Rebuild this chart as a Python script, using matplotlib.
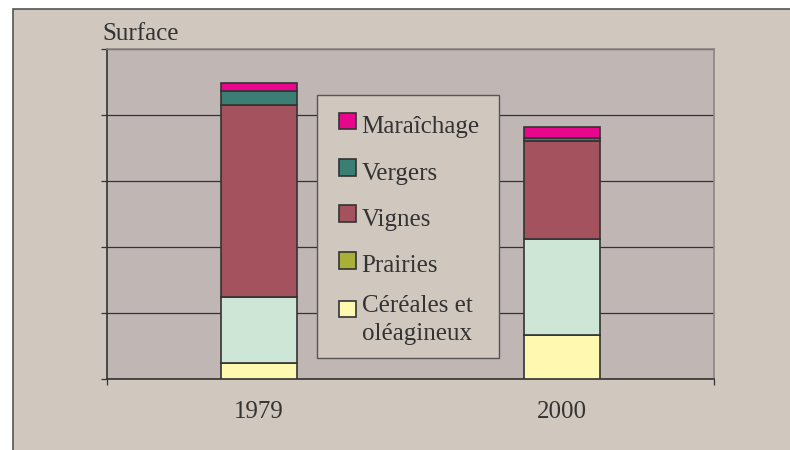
import numpy as np
import matplotlib
matplotlib.use('Agg')
import matplotlib.pyplot as plt
from matplotlib.patches import Rectangle

# Données (surface, unités arbitraires : une ligne de grille = 1000)
annees = ['1979', '2000']
cereales = [250, 670]
prairies = [1000, 1450]
vignes = [2900, 1480]
vergers = [210, 50]
maraichage = [130, 170]

# nom, valeurs, couleur des barres, couleur dans la légende
series = [
    ('Céréales et\noléagineux', cereales, '#FFF8B0', '#FFF8B0'),
    ('Prairies', prairies, '#CDE6D5', '#A8B038'),
    ('Vignes', vignes, '#A5525F', '#A5525F'),
    ('Vergers', vergers, '#3A7E74', '#3A7E74'),
    ('Maraîchage', maraichage, '#E8068C', '#E8068C'),
]

fond = '#D0C7BF'
fond_graph = '#C0B7B5'
texte = '#333333'
taille = 18
W, H = 790, 450

plt.rcParams['font.family'] = ['Liberation Serif', 'DejaVu Serif']

fig = plt.figure(figsize=(7.9, 4.5), dpi=100, facecolor='white')

def px(x, y):
    # pixels (origine en haut à gauche) -> coordonnées figure
    return x / W, 1 - y / H

# cadre extérieur
fig.patches.append(Rectangle((12.5 / W, -0.05), 1.1, 1 - 9.5 / H + 0.05,
                             transform=fig.transFigure, facecolor=fond,
                             edgecolor='#555555', linewidth=1.2, zorder=-5))

ax = fig.add_axes([107 / W, 1 - 379 / H, 607 / W, 330 / H])
ax.set_facecolor(fond_graph)

x = np.arange(len(annees))
bas = np.zeros(len(annees))
for nom, vals, couleur, _ in series:
    ax.bar(x, vals, width=0.25, bottom=bas, color=couleur,
           edgecolor='#333333', linewidth=1.2, zorder=3)
    bas += np.array(vals)

ax.set_xlim(-0.5, 1.5)
ax.set_ylim(0, 5000)
ax.set_yticks(np.arange(0, 5001, 1000))
ax.set_yticklabels([])
ax.yaxis.grid(True, color='#333333', linewidth=0.9)
ax.set_axisbelow(True)
ax.tick_params(axis='y', length=4, width=0.9, color='#333333', direction='out')

ax.set_xticks(x)
ax.set_xticklabels(annees, fontsize=taille, color=texte)
ax.set_xticks([-0.5, 1.5], minor=True)
ax.tick_params(axis='x', which='major', length=0, pad=16)
ax.tick_params(axis='x', which='minor', length=4, width=0.9, color='#333333')

for s in ['top', 'right']:
    ax.spines[s].set_color('#8C8583')
    ax.spines[s].set_linewidth(1.2)
for s in ['left', 'bottom']:
    ax.spines[s].set_color('#333333')
    ax.spines[s].set_linewidth(1.2)

fig.text(*px(102, 40), 'Surface', fontsize=taille, color=texte,
         ha='left', va='baseline')

# légende (dessinée à la main pour garder l'espacement d'origine)
fig.patches.append(Rectangle(px(316.7, 358), 182 / W, 263 / H,
                             transform=fig.transFigure, facecolor=fond,
                             edgecolor='#555555', linewidth=1.0, zorder=4))
lignes_base = [133, 180, 226.5, 272.5, 311.5]
hauts_carres = [112.7, 159.3, 205.3, 252.3, 300.7]
cote = 16.5
for (nom, _, _, c), yb, yc in zip(reversed(series), lignes_base, hauts_carres):
    fig.patches.append(Rectangle(px(339.3, yc + cote), cote / W, cote / H,
                                 transform=fig.transFigure, facecolor=c,
                                 edgecolor='#333333', linewidth=1.2, zorder=5))
    for k, morceau in enumerate(nom.split('\n')):
        fig.text(*px(361.7, yb + 28.5 * k), morceau, fontsize=taille,
                 color=texte, ha='left', va='baseline', zorder=6)

fig.savefig('out.png', dpi=100, facecolor='white')
